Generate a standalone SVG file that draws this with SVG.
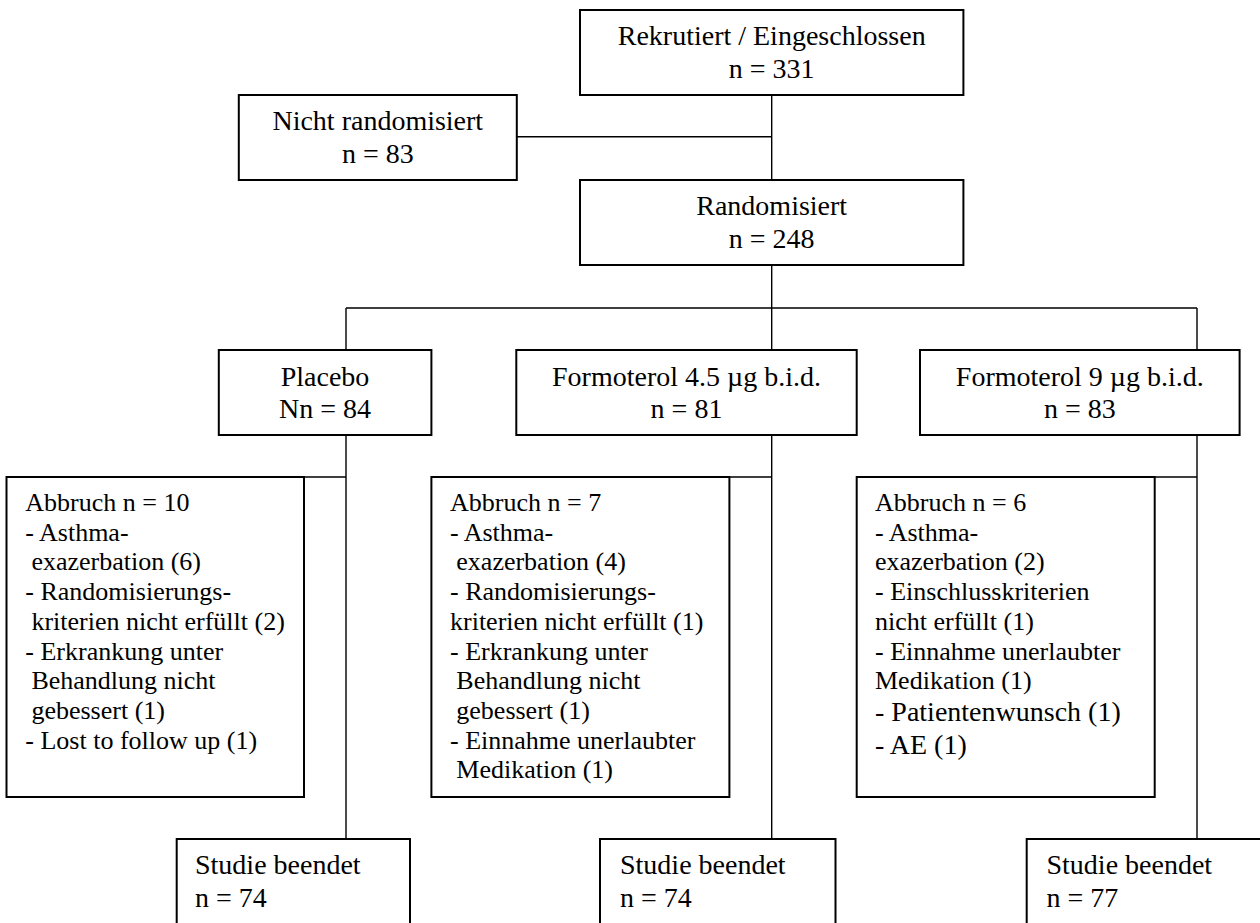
<svg xmlns="http://www.w3.org/2000/svg" width="1260" height="923" viewBox="0 0 1260 923">
<style>
  .box { fill: #fff; stroke: #000; stroke-width: 2; }
  .conn { fill: none; stroke: #000; stroke-width: 1.4; }
  text { font-family: "Liberation Serif", "Times New Roman", serif; fill: #000; }
  .h { font-size: 28px; }
  .c { text-anchor: middle; }
  .s { font-size: 26px; }
</style>
<rect width="1260" height="923" fill="#fff"/>
<g id="connectors">
  <path class="conn" d="M771.7 95 V180 M516.8 136.7 H771.7 M771.7 265 V350 M346 308 H1197 M346 308 V350 M1197 308 V350 M346 435 V839 M771.7 435 V839 M1197 435 V839 M304 477 H346 M729.4 477 H771.7 M1154.7 477 H1197"/>
</g>
<g id="rekrutiert">
  <rect class="box" x="580" y="10" width="383.4" height="85"/>
  <text class="h c" x="771.7" y="45">Rekrutiert / Eingeschlossen</text>
  <text class="h c" x="771.7" y="77.5">n = 331</text>
</g>
<g id="nicht-randomisiert">
  <rect class="box" x="238.8" y="95" width="278" height="85"/>
  <text class="h c" x="377.8" y="130">Nicht randomisiert</text>
  <text class="h c" x="377.8" y="163">n = 83</text>
</g>
<g id="randomisiert">
  <rect class="box" x="580" y="180" width="383.4" height="85"/>
  <text class="h c" x="771.7" y="215">Randomisiert</text>
  <text class="h c" x="771.7" y="247.7">n = 248</text>
</g>
<g id="placebo">
  <rect class="box" x="218.8" y="350" width="212.6" height="85"/>
  <text class="h c" x="325" y="385.5">Placebo</text>
  <text class="h c" x="325" y="418">Nn = 84</text>
</g>
<g id="formoterol45">
  <rect class="box" x="516.3" y="350" width="340.4" height="85"/>
  <text class="h c" x="686.5" y="385.5">Formoterol 4.5 µg b.i.d.</text>
  <text class="h c" x="686.5" y="418">n = 81</text>
</g>
<g id="formoterol9">
  <rect class="box" x="920" y="350" width="319.6" height="85"/>
  <text class="h c" x="1079.8" y="385.5">Formoterol 9 µg b.i.d.</text>
  <text class="h c" x="1079.8" y="418">n = 83</text>
</g>
<g id="abbruch-placebo">
  <rect class="box" x="6.5" y="477" width="297.5" height="320"/>
  <text class="s" x="25.3" y="511">Abbruch n = 10</text>
  <text class="s" x="25.3" y="540.7">- Asthma-</text>
  <text class="s" x="31.4" y="570.4">exazerbation (6)</text>
  <text class="s" x="25.3" y="600">- Randomisierungs-</text>
  <text class="s" x="31.4" y="629.8">kriterien nicht erfüllt (2)</text>
  <text class="s" x="25.3" y="659.5">- Erkrankung unter</text>
  <text class="s" x="31.4" y="689.2">Behandlung nicht</text>
  <text class="s" x="31.4" y="718.9">gebessert (1)</text>
  <text class="s" x="25.3" y="748.6">- Lost to follow up (1)</text>
</g>
<g id="abbruch-formoterol45">
  <rect class="box" x="431.4" y="477" width="298" height="320"/>
  <text class="s" x="450" y="511">Abbruch n = 7</text>
  <text class="s" x="450" y="540.7">- Asthma-</text>
  <text class="s" x="456.3" y="570.4">exazerbation (4)</text>
  <text class="s" x="450" y="600">- Randomisierungs-</text>
  <text class="s" x="450" y="629.8">kriterien nicht erfüllt (1)</text>
  <text class="s" x="450" y="659.5">- Erkrankung unter</text>
  <text class="s" x="456.3" y="689.2">Behandlung nicht</text>
  <text class="s" x="456.3" y="718.9">gebessert (1)</text>
  <text class="s" x="450" y="748.6">- Einnahme unerlaubter</text>
  <text class="s" x="456.3" y="778.3">Medikation (1)</text>
</g>
<g id="abbruch-formoterol9">
  <rect class="box" x="856.7" y="477" width="298" height="320"/>
  <text class="s" x="875" y="511">Abbruch n = 6</text>
  <text class="s" x="875" y="540.7">- Asthma-</text>
  <text class="s" x="875" y="570.4">exazerbation (2)</text>
  <text class="s" x="875" y="600">- Einschlusskriterien</text>
  <text class="s" x="875" y="629.8">nicht erfüllt (1)</text>
  <text class="s" x="875" y="659.5">- Einnahme unerlaubter</text>
  <text class="s" x="875" y="689.2">Medikation (1)</text>
  <text class="h" x="875" y="721">- Patientenwunsch (1)</text>
  <text class="h" x="875" y="754">- AE (1)</text>
</g>
<g id="beendet-placebo">
  <rect class="box" x="176.7" y="839" width="233.3" height="100"/>
  <text class="h" x="195" y="874">Studie beendet</text>
  <text class="h" x="195" y="907">n = 74</text>
</g>
<g id="beendet-formoterol45">
  <rect class="box" x="600" y="839" width="235.5" height="100"/>
  <text class="h" x="620" y="874">Studie beendet</text>
  <text class="h" x="620" y="907">n = 74</text>
</g>
<g id="beendet-formoterol9">
  <rect class="box" x="1026.7" y="839" width="240" height="100"/>
  <text class="h" x="1046.5" y="874">Studie beendet</text>
  <text class="h" x="1046.5" y="907">n = 77</text>
</g>
</svg>
